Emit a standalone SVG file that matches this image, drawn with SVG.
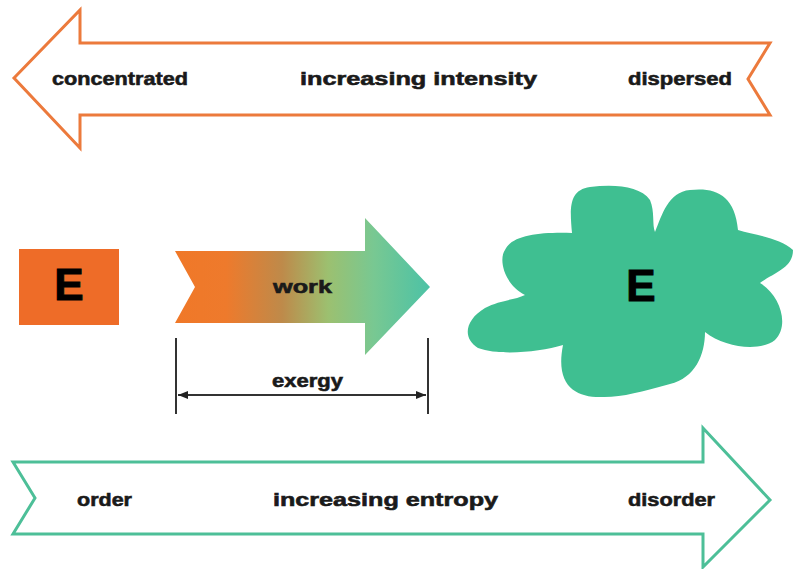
<svg xmlns="http://www.w3.org/2000/svg" width="800" height="569" viewBox="0 0 800 569">
<defs>
<style>
.lbl{font-family:"Liberation Sans",Arial,sans-serif;font-weight:bold;fill:#1a1a1a;stroke:#1a1a1a;stroke-width:0.6;}
.big{font-family:"Liberation Sans",Arial,sans-serif;font-weight:bold;fill:#000;stroke:#000;stroke-width:1;font-size:44px;text-anchor:middle;}
.dim{stroke:#333;stroke-width:2;fill:none;}
</style>
<linearGradient id="workGrad" gradientUnits="userSpaceOnUse" x1="175" y1="0" x2="430" y2="0">
<stop offset="0" stop-color="#F07828"/>
<stop offset="0.2" stop-color="#EE7A2C"/>
<stop offset="0.42" stop-color="#BE8A4A"/>
<stop offset="0.6" stop-color="#9CC070"/>
<stop offset="0.78" stop-color="#78C892"/>
<stop offset="1" stop-color="#4CC2A6"/>
</linearGradient>
<marker id="ah" viewBox="0 0 10 10" refX="10" refY="5" markerWidth="5" markerHeight="5" orient="auto-start-reverse" markerUnits="strokeWidth">
<path d="M0,1 L10,5 L0,9 Z" fill="#222"/>
</marker>
</defs>
<rect width="800" height="569" fill="#ffffff"/>

<g id="intensity-arrow">
<path d="M14,78 L80,10 L80,43 L770,43 L748,79 L770,115 L80,115 L80,148 Z" fill="#fff" stroke="#EC7A3C" stroke-width="3" stroke-linejoin="miter"/>
<text class="lbl" x="52" y="85" font-size="19" textLength="136" lengthAdjust="spacingAndGlyphs">concentrated</text>
<text class="lbl" x="300" y="85" font-size="19" textLength="237" lengthAdjust="spacingAndGlyphs">increasing intensity</text>
<text class="lbl" x="628" y="85" font-size="19" textLength="104" lengthAdjust="spacingAndGlyphs">dispersed</text>
</g>

<g id="energy-concentrated">
<rect x="19" y="249" width="100" height="76" fill="#EE6C28"/>
<text class="big" x="69" y="300">E</text>
</g>

<g id="work-arrow">
<path d="M175,251 L365,251 L365,218 L430,287 L365,355 L365,323 L175,323 L195,287 Z" fill="url(#workGrad)"/>
<text class="lbl" x="273" y="293" font-size="19" textLength="59" lengthAdjust="spacingAndGlyphs">work</text>
</g>

<g id="energy-dispersed">
<path d="M572,233 C570,210 568,190 590,187 C615,184 640,186 650,200 C655,212 652,225 655,232 C662,215 668,192 690,190 C715,187 735,195 738,230 C755,235 780,238 793,250 C793,268 775,272 760,283 C780,295 790,325 775,340 C760,352 725,348 705,332 C705,355 695,378 670,384 C640,392 620,398 600,397 C575,397 555,385 563,345 C540,352 500,356 478,348 C462,338 465,320 485,308 C500,300 515,300 525,295 C505,285 498,260 505,250 C512,235 540,232 572,233 Z" fill="#3FBF91"/>
<text class="big" x="641" y="301">E</text>
</g>

<g id="connectors">
<line class="dim" x1="176" y1="338" x2="176" y2="414"/>
<line class="dim" x1="428" y1="338" x2="428" y2="414"/>
<line class="dim" x1="178" y1="395" x2="426" y2="395" marker-start="url(#ah)" marker-end="url(#ah)"/>
<text class="lbl" x="272" y="387" font-size="19" textLength="71" lengthAdjust="spacingAndGlyphs">exergy</text>
</g>

<g id="entropy-arrow">
<path d="M13,462 L703,462 L703,428 L770,500 L703,567 L703,534 L13,534 L35,498 Z" fill="#fff" stroke="#4DBF98" stroke-width="3" stroke-linejoin="miter"/>
<text class="lbl" x="77" y="506" font-size="19" textLength="55" lengthAdjust="spacingAndGlyphs">order</text>
<text class="lbl" x="273" y="506" font-size="19" textLength="225" lengthAdjust="spacingAndGlyphs">increasing entropy</text>
<text class="lbl" x="628" y="506" font-size="19" textLength="87" lengthAdjust="spacingAndGlyphs">disorder</text>
</g>
</svg>
